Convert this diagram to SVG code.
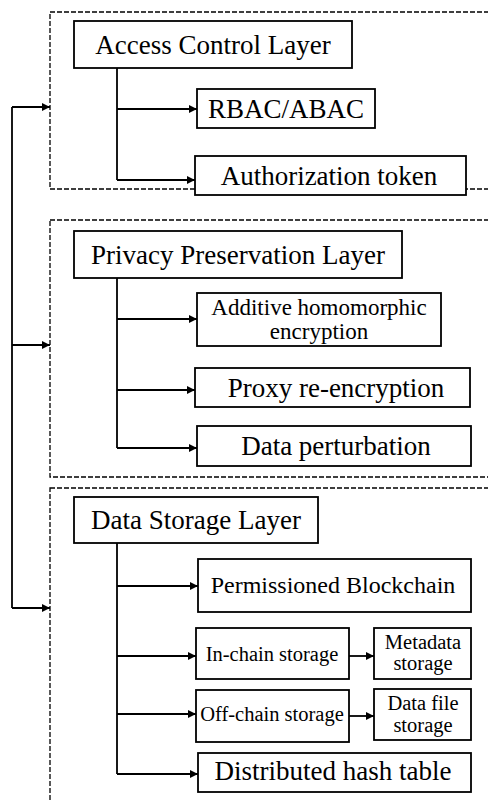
<svg xmlns="http://www.w3.org/2000/svg" width="488" height="802" viewBox="0 0 488 802" font-family="'Liberation Serif', 'Times New Roman', serif">
<defs>
<style>
.layer{fill:none;stroke:#000;stroke-width:1.3;stroke-dasharray:5 2}
.box{fill:#fff;stroke:#000;stroke-width:1.8}
text{font-family:'Liberation Serif','Times New Roman',serif;fill:#000;text-anchor:middle}
.l{font-size:27px}
.m{font-size:24px}
.a{font-size:23px}
.s{font-size:20.5px}
.c{fill:none;stroke:#000;stroke-width:1.8}
</style>
<marker id="ah" viewBox="0 0 10 10" refX="10" refY="5" markerWidth="10" markerHeight="8" markerUnits="userSpaceOnUse" orient="auto">
<path d="M0,0 L10,5 L0,10 Z" fill="#000"/>
</marker>
</defs>
<rect width="488" height="802" fill="#fff"/>
<g id="layers">
<rect id="layer-access" class="layer" x="50" y="12" width="460" height="177"/>
<rect id="layer-privacy" class="layer" x="50" y="220" width="460" height="257"/>
<rect id="layer-storage" class="layer" x="50" y="488" width="460" height="340"/>
</g>
<g id="connectors">
<path class="c" d="M12,107 V608"/>
<path class="c" d="M12,107 H50" marker-end="url(#ah)"/>
<path class="c" d="M12,345 H50" marker-end="url(#ah)"/>
<path class="c" d="M12,608 H50" marker-end="url(#ah)"/>
<path class="c" d="M117,68 V180"/>
<path class="c" d="M117,109 H197" marker-end="url(#ah)"/>
<path class="c" d="M117,180 H195" marker-end="url(#ah)"/>
<path class="c" d="M117,278 V448"/>
<path class="c" d="M117,319 H197" marker-end="url(#ah)"/>
<path class="c" d="M117,390 H195" marker-end="url(#ah)"/>
<path class="c" d="M117,448 H197" marker-end="url(#ah)"/>
<path class="c" d="M117,543 V774"/>
<path class="c" d="M117,586 H198" marker-end="url(#ah)"/>
<path class="c" d="M117,656 H196" marker-end="url(#ah)"/>
<path class="c" d="M117,714 H196" marker-end="url(#ah)"/>
<path class="c" d="M117,774 H198" marker-end="url(#ah)"/>
<path class="c" d="M349,656 H374" marker-end="url(#ah)"/>
<path class="c" d="M349,716 H374" marker-end="url(#ah)"/>
</g>
<g id="access-control-layer">
<rect class="box" x="74" y="21" width="278" height="47"/>
<text class="l" x="213" y="54">Access Control Layer</text>
</g>
<g id="rbac-abac">
<rect class="box" x="197" y="89" width="178" height="39"/>
<text class="l" x="286" y="118">RBAC/ABAC</text>
</g>
<g id="authorization-token">
<rect class="box" x="195" y="156" width="271" height="39"/>
<text class="l" x="329" y="185">Authorization token</text>
</g>
<g id="privacy-preservation-layer">
<rect class="box" x="74" y="231" width="328" height="47"/>
<text class="l" x="238" y="264">Privacy Preservation Layer</text>
</g>
<g id="additive-homomorphic-encryption">
<rect class="box" x="197" y="293" width="244" height="53"/>
<text class="a" x="319" y="315">Additive homomorphic</text>
<text class="a" x="319" y="339">encryption</text>
</g>
<g id="proxy-re-encryption">
<rect class="box" x="195" y="368" width="275" height="39"/>
<text class="l" x="336" y="397">Proxy re-encryption</text>
</g>
<g id="data-perturbation">
<rect class="box" x="197" y="426" width="274" height="40"/>
<text class="l" x="336" y="455">Data perturbation</text>
</g>
<g id="data-storage-layer">
<rect class="box" x="74" y="497" width="244" height="46"/>
<text class="l" x="196" y="529">Data Storage Layer</text>
</g>
<g id="permissioned-blockchain">
<rect class="box" x="198" y="559" width="273" height="53"/>
<text class="m" x="333" y="593">Permissioned Blockchain</text>
</g>
<g id="in-chain-storage">
<rect class="box" x="196" y="628" width="153" height="51"/>
<text class="s" x="272" y="661">In-chain storage</text>
</g>
<g id="metadata-storage">
<rect class="box" x="374" y="628" width="97" height="51"/>
<text class="s" x="423" y="649">Metadata</text>
<text class="s" x="423" y="670">storage</text>
</g>
<g id="off-chain-storage">
<rect class="box" x="196" y="690" width="153" height="52"/>
<text class="s" x="272" y="721">Off-chain storage</text>
</g>
<g id="data-file-storage">
<rect class="box" x="374" y="689" width="97" height="51"/>
<text class="s" x="423" y="710">Data file</text>
<text class="s" x="423" y="732">storage</text>
</g>
<g id="distributed-hash-table">
<rect class="box" x="198" y="753" width="273" height="39"/>
<text class="l" x="333" y="780">Distributed hash table</text>
</g>
</svg>
